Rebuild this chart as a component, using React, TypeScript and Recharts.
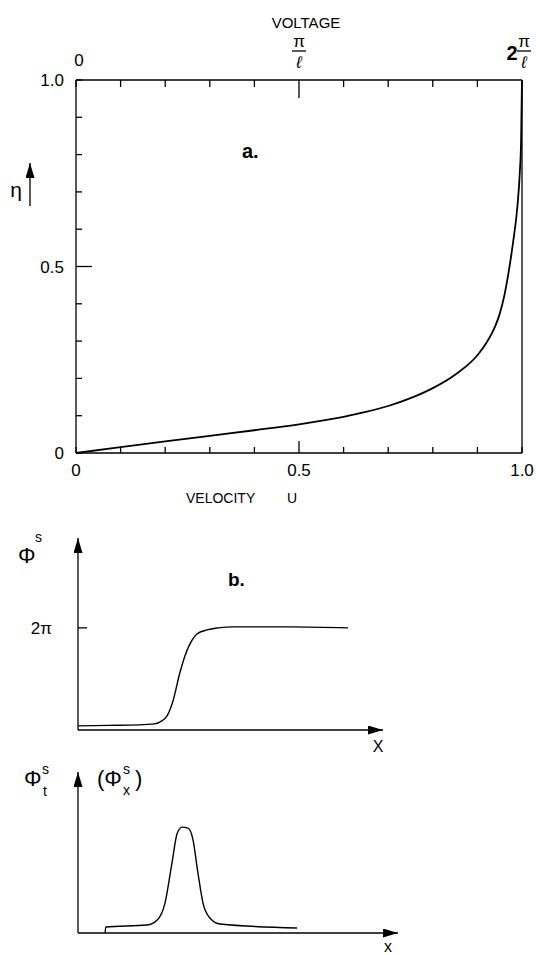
import React from 'react';
import { LineChart, Line, XAxis, YAxis } from 'recharts';

const FONT = '"Liberation Sans", Arial, Helvetica, sans-serif';

// panel a: efficiency against velocity
const velocityU = [0, 0.1, 0.2, 0.3, 0.4, 0.5, 0.6, 0.65, 0.7, 0.75, 0.8, 0.85, 0.9, 0.92, 0.94, 0.95, 0.96, 0.97, 0.98, 0.99, 0.995, 0.998, 1.0];
const etaValues = [0, 0.016, 0.031, 0.046, 0.061, 0.077, 0.097, 0.11, 0.126, 0.147, 0.174, 0.21, 0.262, 0.295, 0.34, 0.373, 0.42, 0.485, 0.565, 0.665, 0.75, 0.84, 1.0];
const uTicks = [0, 0.1, 0.2, 0.3, 0.4, 0.5, 0.6, 0.7, 0.8, 0.9, 1.0];
const etaTicks = [0, 0.1, 0.2, 0.3, 0.4, 0.5, 0.6, 0.7, 0.8, 0.9, 1.0];

// panel b: phase profile of the soliton
const phiX = [0, 0.1, 0.2, 0.25, 0.275, 0.29, 0.31, 0.334, 0.35, 0.374, 0.39, 0.423, 0.46, 0.51, 0.7, 0.885];
const phiS = [0.04, 0.045, 0.05, 0.06, 0.09, 0.13, 0.27, 0.56, 0.72, 0.88, 0.94, 0.98, 1.0, 1.01, 1.01, 1.0];

// panel c: derivative profile
const pulseX = [0.089, 0.091, 0.226, 0.259, 0.285, 0.308, 0.325, 0.341, 0.361, 0.377, 0.393, 0.41, 0.433, 0.466, 0.718];
const pulseY = [0, 0.057, 0.075, 0.12, 0.28, 0.66, 0.94, 1.0, 0.99, 0.88, 0.57, 0.28, 0.14, 0.085, 0.047];

const curveA = velocityU.map((u, i) => ({ u, eta: etaValues[i] }));
const curveB = phiX.map((x, i) => ({ x, phi: phiS[i] }));
const curveC = pulseX.map((x, i) => ({ x, d: pulseY[i] }));

const fmt = (v: number) => (v === 0 ? '0' : v === 0.5 ? '0.5' : v === 1 ? '1.0' : '');

function BottomTick({ x, y, payload }: any) {
  const v = payload.value;
  const len = v === 0.5 ? 12 : 6;
  const label = fmt(v);
  return (
    <g>
      <line x1={x} y1={y} x2={x} y2={y - len} stroke="#000" strokeWidth={1.3} />
      {label && (
        <text x={x} y={y + 23} textAnchor="middle" fontSize={17} fontFamily={FONT} fill="#000">
          {label}
        </text>
      )}
    </g>
  );
}

function LeftTick({ x, y, payload }: any) {
  const v = payload.value;
  const len = v === 0.5 ? 16 : 6;
  const label = fmt(v);
  return (
    <g>
      <line x1={x} y1={y} x2={x + len} y2={y} stroke="#000" strokeWidth={1.3} />
      {label && (
        <text x={x - 12} y={y + 6} textAnchor="end" fontSize={17} fontFamily={FONT} fill="#000">
          {label}
        </text>
      )}
    </g>
  );
}

function Frac({ x, y }: { x: number; y: number }) {
  return (
    <g fontFamily={FONT} fill="#000">
      <text x={x} y={y - 33} textAnchor="middle" fontSize={17}>π</text>
      <line x1={x - 7} y1={y - 29} x2={x + 7} y2={y - 29} stroke="#000" strokeWidth={1.3} />
      <text x={x} y={y - 12} textAnchor="middle" fontSize={17} fontStyle="italic">ℓ</text>
    </g>
  );
}

function TopTick({ x, y, payload }: any) {
  const v = payload.value;
  const len = v === 0.5 ? 18 : 7;
  return (
    <g>
      <line x1={x} y1={y} x2={x} y2={y + len} stroke="#000" strokeWidth={1.3} />
      {v === 0 && (
        <text x={x + 3} y={y - 14} textAnchor="middle" fontSize={17} fontFamily={FONT} fill="#000">0</text>
      )}
      {v === 0.5 && <Frac x={x} y={y} />}
      {v === 1 && (
        <g>
          <text x={x - 10} y={y - 20} textAnchor="middle" fontSize={20} fontWeight="bold" fontFamily={FONT} fill="#000">2</text>
          <Frac x={x + 2} y={y} />
        </g>
      )}
    </g>
  );
}

function TwoPiTick({ x, y }: any) {
  return (
    <g>
      <line x1={x} y1={y} x2={x + 9} y2={y} stroke="#000" strokeWidth={1.3} />
      <text x={x - 26} y={y + 6} textAnchor="end" fontSize={17} fontFamily={FONT} fill="#000">2π</text>
    </g>
  );
}

const ArrowDefs = ({ id }: { id: string }) => (
  <defs>
    <marker id={id} markerUnits="userSpaceOnUse" markerWidth={15} markerHeight={9} refX={15} refY={4.5} orient="auto-start-reverse">
      <path d="M0,0 L15,4.5 L0,9 z" fill="#000" />
    </marker>
  </defs>
);

const axisStroke = { stroke: '#000', strokeWidth: 1.3 };

export default function App() {
  return (
    <div style={{ position: 'absolute', left: 0, top: 0, width: 536, height: 955, background: '#fff', fontFamily: FONT }}>
      <div style={{ position: 'absolute', left: 0, top: 0 }}>
        <LineChart width={536} height={515} data={curveA} margin={{ top: 0, right: 0, bottom: 0, left: 0 }}>
          <ArrowDefs id="arrowA" />
          <XAxis dataKey="u" type="number" domain={[0, 1]} ticks={uTicks} interval={0} height={62}
            axisLine={axisStroke} tickLine={false} tickSize={0} tickMargin={0} tick={<BottomTick />} />
          <XAxis xAxisId="top" orientation="top" dataKey="u" type="number" domain={[0, 1]} ticks={uTicks} interval={0} height={80}
            axisLine={axisStroke} tickLine={false} tickSize={0} tickMargin={0} tick={<TopTick />} />
          <YAxis type="number" domain={[0, 1]} ticks={etaTicks} interval={0} width={76}
            axisLine={axisStroke} tickLine={false} tickSize={0} tickMargin={0} tick={<LeftTick />} />
          <YAxis yAxisId="right" orientation="right" type="number" domain={[0, 1]} width={14}
            axisLine={axisStroke} tickLine={false} tick={false} />
          <Line dataKey="eta" type="monotone" stroke="#000" strokeWidth={1.8} dot={false} isAnimationActive={false} />
          <text x={306} y={28} textAnchor="middle" fontSize={15} fontFamily={FONT} fill="#000">VOLTAGE</text>
          <text x={16} y={197} textAnchor="middle" fontSize={21} fontFamily={FONT} fill="#000">η</text>
          <line x1={30} y1={206} x2={30} y2={163} stroke="#000" strokeWidth={1.3} markerEnd="url(#arrowA)" />
          <text x={242} y={158} fontSize={20} fontWeight="bold" fontFamily={FONT} fill="#000">a.</text>
          <text x={186} y={503} fontSize={14} fontFamily={FONT} fill="#000">VELOCITY</text>
          <text x={287} y={503} fontSize={14} fontFamily={FONT} fill="#000">U</text>
        </LineChart>
      </div>

      <div style={{ position: 'absolute', left: 0, top: 515 }}>
        <LineChart width={536} height={245} data={curveB} margin={{ top: 23, right: 153, bottom: 0, left: 0 }}>
          <ArrowDefs id="arrowB" />
          <XAxis dataKey="x" type="number" domain={[0, 1]} height={30} tick={false} tickLine={false}
            axisLine={{ ...axisStroke, markerEnd: 'url(#arrowB)' }} />
          <YAxis type="number" domain={[0, 1.88]} ticks={[1]} interval={0} width={78}
            tickLine={false} tickSize={0} tickMargin={0} tick={<TwoPiTick />}
            axisLine={{ ...axisStroke, markerStart: 'url(#arrowB)' }} />
          <Line dataKey="phi" type="monotone" stroke="#000" strokeWidth={1.4} dot={false} isAnimationActive={false} />
          <text x={18} y={48} fontSize={22} fontFamily={FONT} fill="#000">Φ</text>
          <text x={35} y={27} fontSize={14} fontFamily={FONT} fill="#000">s</text>
          <text x={228} y={71} fontSize={19} fontWeight="bold" fontFamily={FONT} fill="#000">b.</text>
          <text x={378} y={237} textAnchor="middle" fontSize={16} fontFamily={FONT} fill="#000">X</text>
        </LineChart>
      </div>

      <div style={{ position: 'absolute', left: 0, top: 760 }}>
        <LineChart width={536} height={195} data={curveC} margin={{ top: 12, right: 138, bottom: 0, left: 0 }}>
          <ArrowDefs id="arrowC" />
          <XAxis dataKey="x" type="number" domain={[0, 1.049]} height={22} tick={false} tickLine={false}
            axisLine={{ ...axisStroke, markerEnd: 'url(#arrowC)' }} />
          <YAxis type="number" domain={[0, 1.52]} width={78} tick={false} tickLine={false}
            axisLine={{ ...axisStroke, markerStart: 'url(#arrowC)' }} />
          <Line dataKey="d" type="monotone" stroke="#000" strokeWidth={1.4} dot={false} isAnimationActive={false} />
          <text x={24} y={26} fontSize={22} fontFamily={FONT} fill="#000">Φ</text>
          <text x={42} y={14} fontSize={14} fontFamily={FONT} fill="#000">s</text>
          <text x={43} y={36} fontSize={14} fontFamily={FONT} fill="#000">t</text>
          <text x={97} y={26} fontSize={22} fontFamily={FONT} fill="#000">(Φ</text>
          <text x={123} y={14} fontSize={14} fontFamily={FONT} fill="#000">s</text>
          <text x={123} y={35} fontSize={14} fontFamily={FONT} fill="#000">x</text>
          <text x={135} y={26} fontSize={22} fontFamily={FONT} fill="#000">)</text>
          <text x={388} y={192} textAnchor="middle" fontSize={16} fontFamily={FONT} fill="#000">x</text>
        </LineChart>
      </div>
    </div>
  );
}
